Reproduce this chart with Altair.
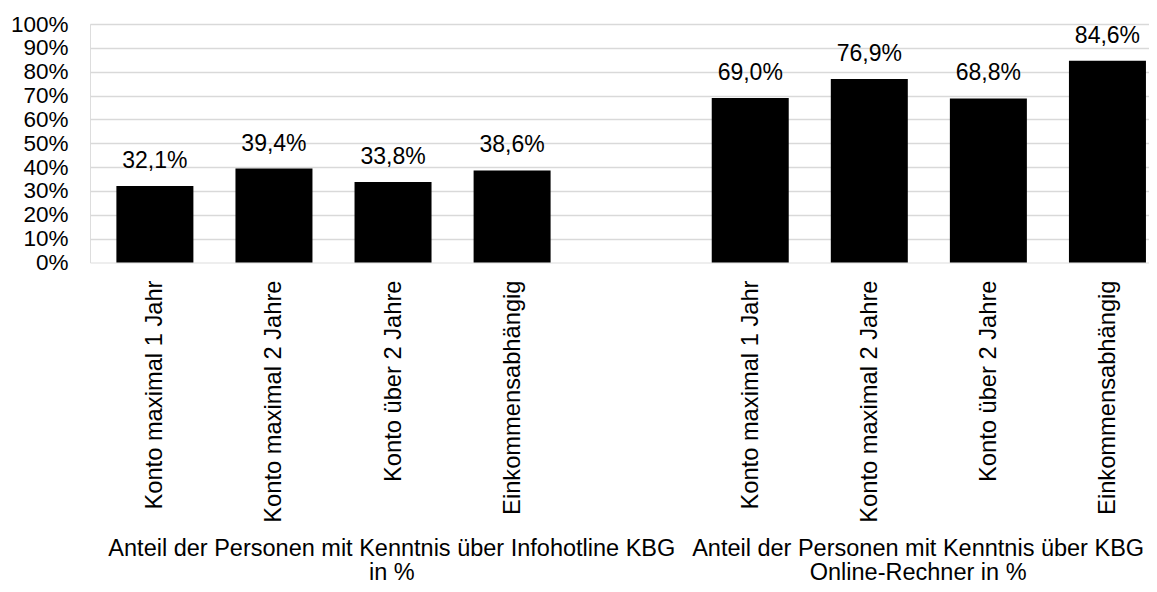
import altair as alt
import pandas as pd

# ---- data ----
categories = [
    "Konto maximal 1 Jahr", "Konto maximal 2 Jahre", "Konto über 2 Jahre", "Einkommensabhängig",
    "",
    "Konto maximal 1 Jahr", "Konto maximal 2 Jahre", "Konto über 2 Jahre", "Einkommensabhängig",
]
slots = [0, 1, 2, 3, 5, 6, 7, 8]
values = [0.321, 0.394, 0.338, 0.386, 0.690, 0.769, 0.688, 0.846]
value_labels = ["32,1%", "39,4%", "33,8%", "38,6%", "69,0%", "76,9%", "68,8%", "84,6%"]

group_labels = [
    "Anteil der Personen mit Kenntnis über Infohotline KBG\nin %",
    "Anteil der Personen mit Kenntnis über KBG\nOnline-Rechner in %",
]
group_centers = [1.99, 6.41]

y_ticks = [i / 10 for i in range(11)]

FONT = "Liberation Sans"

df = pd.DataFrame({"slot": slots, "value": values, "label": value_labels})
gdf = pd.DataFrame({"center": group_centers, "text": group_labels})

label_array = "[" + ",".join("'" + c + "'" for c in categories) + "]"

PLOT_W = 1059
PLOT_H = 238.5

xscale = alt.Scale(domain=[-0.503, 8.307], nice=False, zero=False)
yscale = alt.Scale(domain=[0, 1], nice=False)

xaxis = alt.Axis(
    values=slots,
    tickCount=len(slots),
    labelExpr=label_array + "[datum.value]",
    labelAngle=270,
    labelFontSize=23.7,
    labelFont=FONT,
    labelColor="#000000",
    labelPadding=17.5,
    labelLimit=600,
    labelFlush=False,
    labelOverlap=False,
    labelBound=False,
    ticks=False,
    domain=False,
    grid=False,
    title=None,
)

yaxis = alt.Axis(
    values=y_ticks,
    tickCount=len(y_ticks),
    format=".0%",
    labelFontSize=22.5,
    labelFont=FONT,
    labelColor="#000000",
    labelPadding=22,
    labelOverlap=False,
    labelFlush=False,
    labelBound=False,
    ticks=False,
    domain=False,
    grid=True,
    gridColor="#d9d9d9",
    gridWidth=1.3,
    gridOpacity={"expr": "datum.value == 0 ? 0 : 1"},
    title=None,
)

bars = alt.Chart(df).mark_bar(color="#000000", size=77, orient="vertical").encode(
    x=alt.X("slot:Q", scale=xscale, axis=xaxis),
    y=alt.Y("value:Q", scale=yscale, axis=yaxis),
    y2=alt.datum(0),
)

texts = alt.Chart(df).mark_text(
    fontSize=23, font=FONT, color="#000000", dy=-18, baseline="alphabetic", align="center"
).encode(
    x=alt.X("slot:Q", scale=xscale),
    y=alt.Y("value:Q", scale=yscale),
    text="label:N",
)

groups = alt.Chart(gdf).mark_text(
    fontSize=23.5, font=FONT, color="#000000", baseline="alphabetic", align="center",
    lineBreak="\n", lineHeight=24,
).encode(
    x=alt.X("center:Q", scale=xscale),
    y=alt.value(532),
    text="text:N",
)

chart = alt.layer(bars, texts, groups).properties(
    width=PLOT_W,
    height=PLOT_H,
    autosize=alt.AutoSizeParams(type="none"),
    padding={"left": 82, "top": 16, "right": 0, "bottom": 321.5},
).configure_view(stroke=None).configure(background="white")

chart.save("out.html", embed_options={"renderer": "svg", "actions": False})
